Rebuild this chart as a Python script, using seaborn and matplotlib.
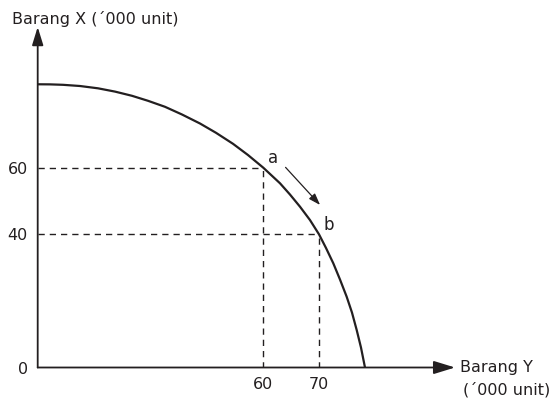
import matplotlib
matplotlib.use("Agg")
import matplotlib.pyplot as plt
import seaborn as sns
import pandas as pd

# ---- data ----
curve_x = [19.50, 21.71, 24.04, 27.09, 30.32, 33.38, 36.43, 39.30, 42.35, 45.40,
           48.64, 51.51, 54.56, 57.25, 60.00, 63.00, 64.79, 66.59, 68.38, 70.00,
           71.26, 72.57, 73.77, 74.97, 75.92, 76.77, 77.54, 78.26]
curve_y = [85.05, 85.02, 84.89, 84.53, 83.84, 82.85, 81.59, 80.09, 78.29, 75.98,
           73.27, 70.48, 67.18, 63.81, 60.00, 55.32, 51.95, 48.29, 44.29, 40.00,
           35.89, 31.29, 26.43, 21.26, 16.52, 11.26, 6.01, 0.00]
point_names = ["a", "b"]
point_x = [60, 70]
point_y = [60, 40]
x_ticks = [60, 70]
y_ticks = [0, 40, 60]
x_label = ["Barang Y", "(´000 unit)"]
y_label = "Barang X (´000 unit)"

sns.set_style("white")
plt.rcParams["font.family"] = ["DejaVu Sans"]
ink = "#231f20"

W, H = 550, 400
fig = plt.figure(figsize=(5.5, 4), dpi=100)
L, R, T, B = 37.7, 455, 27, 367.5
ax = fig.add_axes([L / W, (H - B) / H, (R - L) / W, (B - T) / H])
ax.set_xlim(19.5, 94.42)
ax.set_ylim(0, 102.25)
for s in ax.spines.values():
    s.set_visible(False)

df = pd.DataFrame({"x": curve_x, "y": curve_y})
sns.lineplot(data=df, x="x", y="y", sort=False, estimator=None, color=ink, lw=1.6, ax=ax)

# dashed guide lines
for px, py in zip(point_x, point_y):
    ax.plot([19.5, px], [py, py], color=ink, lw=1.0, ls=(0, (4.5, 3.6)))
    ax.plot([px, px], [0, py], color=ink, lw=1.0, ls=(0, (4.5, 3.6)))

# axes arrows
ax.annotate("", xy=(1, 0), xytext=(0, 0), xycoords="axes fraction",
            arrowprops=dict(arrowstyle="-|>,head_length=1.3,head_width=0.4", lw=1.3,
                            color=ink, mutation_scale=10, shrinkA=0, shrinkB=0))
ax.annotate("", xy=(0, 1), xytext=(0, 0), xycoords="axes fraction",
            arrowprops=dict(arrowstyle="-|>,head_length=1.1,head_width=0.34", lw=1.3,
                            color=ink, mutation_scale=10, shrinkA=0, shrinkB=0))

ax.set_xticks(x_ticks)
ax.set_xticklabels([str(v) for v in x_ticks])
ax.set_yticks(y_ticks)
ax.set_yticklabels([str(v) for v in y_ticks])
ax.tick_params(direction="inout", length=8, width=1.2, color=ink, labelcolor=ink,
               labelsize=11.5, pad=3)
ax.yaxis.get_major_ticks()[0].tick1line.set_visible(False)
ax.set_xlabel("")
ax.set_ylabel("")

# point labels and movement arrow
ax.text(60.84, 61.5, point_names[0], fontsize=12, color=ink, ha="left", va="baseline")
ax.text(70.9, 41.3, point_names[1], fontsize=12, color=ink, ha="left", va="baseline")
ax.annotate("", xy=(70.2, 48.8), xytext=(64.0, 60.1),
            arrowprops=dict(arrowstyle="-|>,head_length=0.7,head_width=0.24", lw=0.9,
                            color=ink, mutation_scale=10, shrinkA=0, shrinkB=0))

# axis titles
fig.text(12 / W, 1 - 24 / H, y_label, fontsize=11.5, color=ink, ha="left", va="baseline")
fig.text(460 / W, 1 - 371.7 / H, x_label[0], fontsize=11.5, color=ink, ha="left", va="baseline")
fig.text(463 / W, 1 - 394.3 / H, x_label[1], fontsize=11.5, color=ink, ha="left", va="baseline")

fig.savefig("out.png", dpi=100)
